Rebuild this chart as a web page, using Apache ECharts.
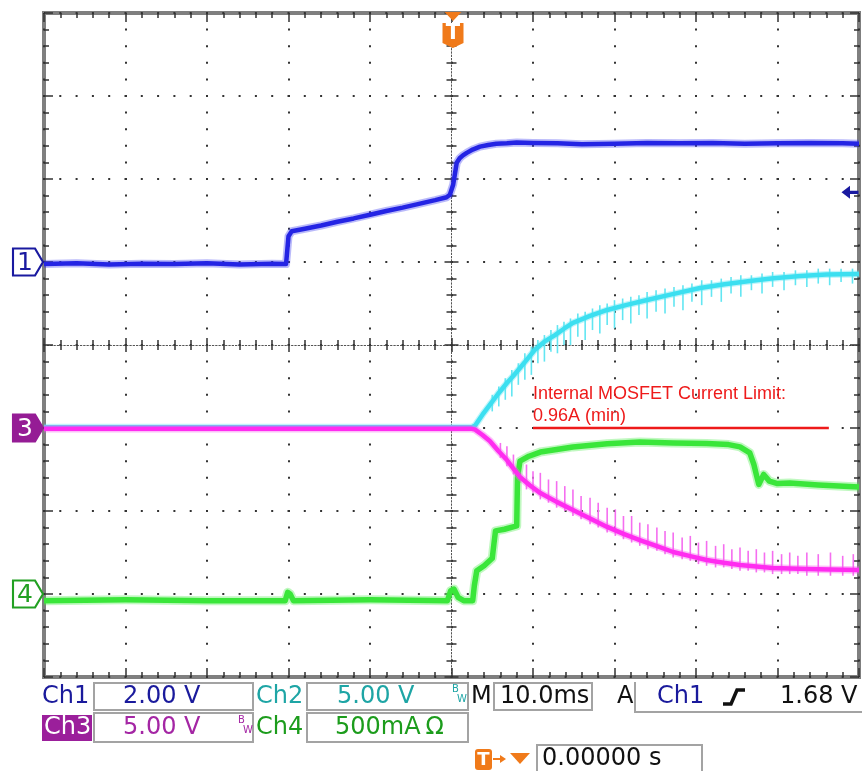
<!DOCTYPE html>
<html><head><meta charset="utf-8">
<script src="https://cdn.jsdelivr.net/npm/echarts@6/dist/echarts.min.js"></script>
<style>html,body{margin:0;padding:0;background:#fff;}#c{width:862px;height:771px;}</style>
</head><body><div id="c"></div><script>
// ---- data (time in ms, values in channel units) ----
const chNames = ['Ch1', 'Ch2', 'Ch3', 'Ch4'];
const chOffsetDiv = [1, -1, -1, -3];      // ground marker position (divisions)
const chScale = [2.0, 5.0, 5.0, 0.5];      // units per division
const triggerLevelV = 1.68;

const t1 = [-50,-46,-42,-38,-34,-30,-26,-22,-20.3,-20.0,-19.6,-18,-16,-14,-12,-10,-8,-6,-4,-2,-0.6,-0.2,0.2,0.4,0.64,1.0,1.4,1.87,2.6,3.5,4.5,5.5,6.8,8,10,13,16,20,24,28,32,36,40,44,48,50];
const ch1V = [-0.05,-0.03,-0.06,-0.04,-0.05,-0.03,-0.06,-0.04,-0.05,0.62,0.74,0.80,0.88,0.97,1.05,1.14,1.23,1.31,1.40,1.49,1.56,1.62,1.86,2.10,2.39,2.50,2.57,2.63,2.71,2.78,2.82,2.85,2.86,2.88,2.87,2.86,2.84,2.85,2.87,2.86,2.87,2.85,2.86,2.87,2.86,2.85];

const t2 = [-50,-30,-10,0,2.5,2.9,3.8,4.7,5.7,6.8,7.6,8.4,9.3,10.2,11.4,12.7,13.8,14.9,17,19.1,21.5,24,27,30.5,33.5,36.6,39.5,42.8,46,50];
const ch2V = [0.05,0.05,0.05,0.05,0.05,0.15,0.8,1.39,2.05,2.71,3.15,3.61,4.15,4.70,5.2,5.60,5.98,6.33,6.75,7.11,7.42,7.71,8.05,8.43,8.66,8.86,9.02,9.16,9.24,9.28];
// noise spikes [t, low, high] (V)
const ch2Spikes = [[5.0,1.0,2.0],[5.8,1.3,2.5],[6.6,1.7,3.0],[7.4,1.9,3.5],[8.2,2.6,3.9],[9.0,2.9,4.5],[9.8,3.2,4.9],[10.6,3.9,5.3],[11.4,4.0,5.6],[12.2,4.6,5.9],[13.0,4.5,6.2],[13.8,5.0,6.4],[14.6,5.0,6.6],[15.5,5.5,6.9],[16.4,5.3,7.0],[17.3,5.9,7.2],[18.2,5.7,7.4],[19.1,6.2,7.5],[20.0,6.0,7.7],[21.0,6.5,7.8],[22.0,6.3,7.9],[23.0,6.8,8.0],[24.0,6.6,8.2],[25.1,7.0,8.3],[26.2,6.9,8.4],[27.3,7.3,8.5],[28.4,7.1,8.6],[29.5,7.6,8.7],[30.7,7.4,8.9],[31.9,7.9,8.9],[33.1,7.6,9.0],[34.3,8.1,9.1],[35.5,7.9,9.2],[36.8,8.3,9.2],[38.1,8.1,9.3],[39.4,8.5,9.4],[40.8,8.3,9.4],[42.2,8.6,9.5],[43.6,8.5,9.5],[45.0,8.7,9.6],[46.4,8.6,9.6],[47.8,8.8,9.6],[49.2,8.7,9.6]];

const t3 = [-50,-30,-10,0,2.5,2.9,3.8,4.7,5.7,6.8,7.6,8.4,9.6,10.9,12.9,14.9,17,19.1,21.1,23.1,25.2,27.2,29.3,31.3,33.4,35.4,37.4,39.4,41.5,43.6,46.5,50];
const ch3V = [-0.05,-0.05,-0.05,-0.05,-0.05,-0.1,-0.42,-0.78,-1.35,-1.93,-2.45,-2.95,-3.45,-3.92,-4.45,-4.94,-5.45,-5.96,-6.38,-6.75,-7.12,-7.47,-7.72,-7.95,-8.12,-8.25,-8.35,-8.43,-8.47,-8.49,-8.52,-8.55];
const ch3Spikes = [[6.0,-1.8,-0.9],[6.8,-2.3,-1.1],[7.6,-2.8,-1.6],[8.4,-3.3,-1.9],[9.2,-3.7,-2.2],[10.0,-3.9,-2.6],[10.9,-4.3,-2.7],[11.9,-4.5,-3.1],[12.9,-4.8,-3.2],[13.9,-5.0,-3.5],[14.9,-5.3,-3.7],[15.9,-5.5,-4.1],[17.0,-5.8,-4.2],[18.0,-6.0,-4.5],[19.1,-6.3,-4.8],[20.1,-6.5,-4.9],[21.1,-6.7,-5.3],[22.1,-6.9,-5.3],[23.1,-7.1,-5.7],[24.1,-7.3,-5.8],[25.2,-7.4,-6.0],[26.2,-7.6,-6.2],[27.2,-7.8,-6.3],[28.3,-7.9,-6.6],[29.3,-8.0,-6.5],[30.3,-8.2,-6.9],[31.3,-8.3,-6.8],[32.4,-8.4,-7.1],[33.4,-8.4,-7.0],[34.4,-8.5,-7.3],[35.4,-8.6,-7.2],[36.4,-8.6,-7.4],[37.4,-8.7,-7.3],[38.4,-8.7,-7.5],[39.4,-8.8,-7.4],[40.5,-8.8,-7.6],[41.5,-8.8,-7.5],[42.5,-8.8,-7.7],[43.6,-8.9,-7.5],[45.0,-8.9,-7.6],[46.5,-8.9,-7.5],[48.0,-8.9,-7.7],[49.3,-8.9,-7.6]];

const t4 = [-50,-40,-30,-20.4,-20.1,-19.8,-19.4,-10,-0.5,-0.1,0.3,0.8,1.5,2.6,2.8,3.1,4,5.0,5.2,5.4,6.5,8.0,8.1,8.4,9.5,10.9,12.9,14.9,19.1,23.1,27.2,31.3,34,35.4,36.6,37.1,37.5,37.7,38.3,39.0,40,41.5,45,50];
const ch4A = [-0.04,-0.035,-0.04,-0.04,0.01,0.0,-0.04,-0.035,-0.04,0.02,0.03,-0.02,-0.04,-0.04,0.05,0.14,0.17,0.215,0.30,0.38,0.39,0.41,0.70,0.80,0.83,0.855,0.87,0.886,0.905,0.915,0.91,0.907,0.9,0.886,0.85,0.78,0.70,0.66,0.72,0.68,0.665,0.668,0.657,0.645];

const limitT = [10.0, 46.3];
const limitA = [1.0, 1.0];
const annotationLines = ['Internal MOSFET Current Limit:', '0.96A (min)'];

// ---- helpers ----
const toDiv = (ch, v) => chOffsetDiv[ch] + v / chScale[ch];
const pairs = (ts, vs, ch) => ts.map((t, i) => [t, toDiv(ch, vs[i])]);
const spikes = (arr, ch) => arr.map(s => [s[0], toDiv(ch, s[1]), toDiv(ch, s[2])]);

const X_MIN = -50, X_MAX = 50, X_INT = 10, Y_MIN = -4, Y_MAX = 4, Y_INT = 1;
const tickCol = '#333';
function ax(base, extra) { return Object.assign({}, base, extra); }
const xBase = {type:'value', min:X_MIN, max:X_MAX, interval:X_INT, axisLabel:{show:false}, splitLine:{show:false}};
const yBase = {type:'value', min:Y_MIN, max:Y_MAX, interval:Y_INT, axisLabel:{show:false}, splitLine:{show:false}};
const tick = (inside, len) => ({show:true, inside:inside, length:len, lineStyle:{color:tickCol, width:1.5}});
const mtick = (len) => ({show:true, splitNumber:5, length:len, lineStyle:{color:tickCol, width:1.5}});

const xAxes = [
  ax(xBase, {position:'bottom', axisLine:{show:false, onZero:false}, axisTick:tick(true,9), minorTick:mtick(5),
     splitLine:{show:true, lineStyle:{color:'#333', width:2, type:[2,14.6], dashOffset:1}}}),
  ax(xBase, {position:'top', axisLine:{show:false, onZero:false}, axisTick:tick(true,9), minorTick:mtick(5)}),
  ax(xBase, {position:'bottom', axisLine:{show:true, onZero:true, onZeroAxisIndex:0, lineStyle:{color:'#555', width:1, type:[1.5,1.8]}}, axisTick:tick(true,7), minorTick:mtick(5)}),
  ax(xBase, {position:'bottom', axisLine:{show:false, onZero:true, onZeroAxisIndex:0}, axisTick:tick(false,7), minorTick:mtick(5)})
];
const yAxes = [
  ax(yBase, {position:'left', axisLine:{show:false, onZero:false}, axisTick:tick(true,9), minorTick:mtick(5),
     splitLine:{show:true, lineStyle:{color:'#333', width:2, type:[2,14.3], dashOffset:1}}}),
  ax(yBase, {position:'right', axisLine:{show:false, onZero:false}, axisTick:tick(true,9), minorTick:mtick(5)}),
  ax(yBase, {position:'left', axisLine:{show:true, onZero:true, onZeroAxisIndex:0, lineStyle:{color:'#555', width:1, type:[1.5,1.8]}}, axisTick:tick(true,7), minorTick:mtick(5)}),
  ax(yBase, {position:'left', axisLine:{show:false, onZero:true, onZeroAxisIndex:0}, axisTick:tick(false,7), minorTick:mtick(5)})
];

function spikeSeries(data, color) {
  return {type:'custom', data:data, z:2, clip:true,
    renderItem: function (params, api) {
      const a = api.coord([api.value(0), api.value(1)]);
      const b = api.coord([api.value(0), api.value(2)]);
      return {type:'line', shape:{x1:a[0], y1:a[1], x2:b[0], y2:b[1]}, style:{stroke:color, lineWidth:1.6}};
    }};
}
const lineS = (data, color, w, z, op) => ({type:'line', data:data, showSymbol:false, symbol:'none', z:z,
  lineStyle:{color:color, width:w, opacity:(op == null ? 1 : op), join:'round'}, itemStyle:{color:color}});

const FONT = 'DejaVu Sans';
const markerPath = 'path://M0,0H22L30,13L22,26H0Z';
const markerDefs = [
  {ch:0, text:'1', fill:'#ffffff', stroke:'#1a1aa0', color:'#1a1aa0'},
  {ch:2, text:'3', fill:'#951c95', stroke:'#951c95', color:'#ffffff'},
  {ch:3, text:'4', fill:'#ffffff', stroke:'#22a022', color:'#22a022'}
];

const d1 = pairs(t1, ch1V, 0), d2 = pairs(t2, ch2V, 1), d3 = pairs(t3, ch3V, 2), d4 = pairs(t4, ch4A, 3);
const series = [
  lineS(d1, '#3a3af0', 8, 2, 0.35),
  lineS(d1, '#2424e4', 4.5, 3),
  spikeSeries(spikes(ch2Spikes, 1), '#62e6f2'),
  lineS(d2, '#5fe6f3', 7, 2, 0.4),
  lineS(d2, '#3cdff0', 4.5, 3),
  lineS(d4, '#4aea4a', 9, 3, 0.35),
  lineS(d4, '#3ae63a', 5.5, 4),
  spikeSeries(spikes(ch3Spikes, 2), '#f56ef0'),
  lineS(d3, '#f75cf0', 7.5, 4, 0.4),
  lineS(d3, '#ff2cf0', 4.5, 5),
  lineS(pairs(limitT, limitA, 3), '#ee1a1a', 2.5, 6),
  {type:'scatter', clip:false, z:10, symbol:markerPath, symbolSize:[30,27], symbolOffset:[-16,0],
    data: markerDefs.map(m => ({value:[X_MIN, chOffsetDiv[m.ch]],
      itemStyle:{color:m.fill, borderColor:m.stroke, borderWidth:2, opacity:1},
      label:{show:true, position:'inside', formatter:m.text, color:m.color, fontSize:25, fontFamily:FONT, offset:[-3,1]}}))},
  {type:'scatter', clip:false, z:10, symbol:'path://M2,0H18L10,9Z M0,11H20V31L10,36L0,31Z', symbolSize:[21,36], symbolOffset:[1.5,17],
    itemStyle:{color:'#f07a1a', opacity:1},
    label:{show:true, position:'inside', formatter:'T', color:'#fff', fontSize:21, fontWeight:'bold', fontFamily:FONT, offset:[0,4]},
    data:[[0, Y_MAX]]},
  {type:'scatter', clip:false, z:10, symbol:'path://M0,6L9,0V4.5H18V7.5H9V12Z', symbolSize:[17,13], symbolOffset:[-9,0],
    itemStyle:{color:'#1a1aa0', opacity:1}, data:[[X_MAX, toDiv(0, triggerLevelV)]]}
];

// ---- readout panel (layout) ----
const G = [];
const txt = (x, y, s, color, size, extra) => G.push(Object.assign({type:'text', x:x, y:y, z:20,
  style:{text:s, fill:color, font:(size||24)+'px "'+FONT+'"', verticalAlign:'middle', align:'left'}}, extra||{}));
const box = (x, y, w, h) => G.push({type:'rect', z:19, shape:{x:x, y:y, width:w, height:h}, style:{fill:'#fff', stroke:'#a3a3a3', lineWidth:2}});

box(94, 683, 159, 27); box(307, 683, 161, 27); box(494, 683, 98, 27);
G.push({type:'polyline', z:19, shape:{points:[[635,682],[635,712],[864,712]]}, style:{stroke:'#a3a3a3', lineWidth:2, fill:null}});
box(94, 713, 159, 29); box(307, 713, 161, 29); box(537, 745, 165, 40);
G.push({type:'rect', z:19, shape:{x:42, y:715, width:50, height:26}, style:{fill:'#9b1f9b'}});

txt(42, 697, chNames[0], '#1a1a9c');
txt(123, 697, '2.00 V', '#1a1a9c');
txt(256, 697, chNames[1], '#1ea5a5');
txt(337, 697, '5.00 V', '#1ea5a5');
txt(452, 689, 'B', '#1ea5a5', 10); txt(457, 699, 'W', '#1ea5a5', 10);
txt(471, 697, 'M', '#111');
txt(500, 697, '10.0ms', '#111');
txt(617, 697, 'A', '#111');
txt(657, 697, chNames[0], '#1a1a9c');
G.push({type:'polyline', z:20, shape:{points:[[723,704],[731,704],[737,690],[745,690]]}, style:{stroke:'#111', lineWidth:3.5, fill:null}});
txt(780, 697, '1.68 V', '#111');

txt(44, 728, chNames[2], '#ffffff');
txt(123, 728, '5.00 V', '#a426a4');
txt(238, 720, 'B', '#a426a4', 10); txt(243, 730, 'W', '#a426a4', 10);
txt(256, 728, chNames[3], '#1c9c1c');
txt(335, 728, '500mA\u2009\u03A9', '#1c9c1c');

G.push({type:'rect', z:20, shape:{x:475, y:749, width:17, height:21, r:3}, style:{fill:'#f07a1a'}});
G.push({type:'text', z:21, x:483.5, y:760, style:{text:'T', fill:'#fff', font:'bold 18px "'+FONT+'"', align:'center', verticalAlign:'middle'}});
G.push({type:'line', z:20, shape:{x1:493, y1:759, x2:502, y2:759}, style:{stroke:'#f07a1a', lineWidth:2}});
G.push({type:'polygon', z:20, shape:{points:[[500,755],[506,759],[500,763]]}, style:{fill:'#f07a1a'}});
G.push({type:'polygon', z:20, shape:{points:[[510,753],[530,753],[520,764]]}, style:{fill:'#f07a1a'}});
txt(542, 759, '0.00000 s', '#111');

// annotation
G.push({type:'text', z:20, x:533, y:394, style:{text:annotationLines[0], fill:'#ee1a1a', font:'18px "Liberation Sans"', verticalAlign:'middle'}});
G.push({type:'text', z:20, x:533, y:416, style:{text:annotationLines[1], fill:'#ee1a1a', font:'18px "Liberation Sans"', verticalAlign:'middle'}});

const chart = echarts.init(document.getElementById('c'), null, {renderer:'canvas'});
chart.setOption({
  animation:false,
  backgroundColor:'#ffffff',
  grid:{left:44, right:3, top:13, bottom:94, show:true, borderColor:'#7f7f7f', borderWidth:4, backgroundColor:'#ffffff'},
  xAxis:xAxes, yAxis:yAxes,
  series:series,
  graphic:G
});
</script></body></html>
